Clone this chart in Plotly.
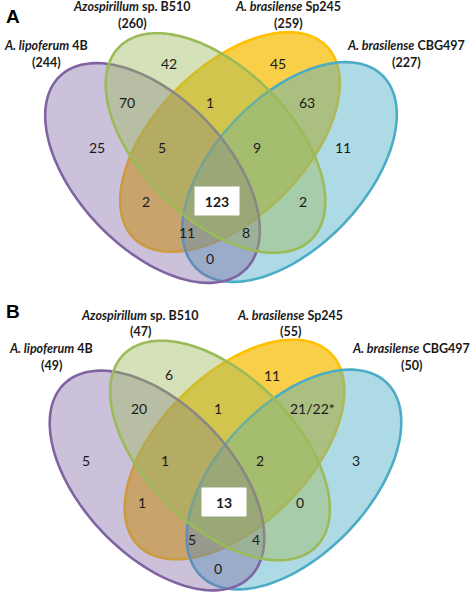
import numpy as np
import plotly.graph_objects as go

W, H = 472, 594

# ---- data ----
species = ["A. lipoferum", "Azospirillum", "A. brasilense", "A. brasilense"]
strains = ["4B", "sp. B510", "Sp245", "CBG497"]
totals_A = [244, 260, 259, 227]
totals_B = [49, 47, 55, 50]

regions = ["L", "B", "S", "C", "LB", "BS", "SC", "LBS", "BSC", "LS",
           "LBSC", "BC", "LSC", "LBC", "LC"]
counts_A = ["25", "42", "45", "11", "70", "1", "63", "5", "9", "2",
            "123", "2", "11", "8", "0"]
counts_B = ["5", "6", "11", "3", "20", "1", "21/22*", "1", "2", "1",
            "13", "0", "5", "4", "0"]
panel_letters = ["A", "B"]

# ---- layout (positions / styles) ----
pos_A = {"L": (97, 147), "B": (169, 63), "S": (278, 63), "C": (343, 147),
         "LB": (127, 102), "BS": (210, 102), "SC": (307, 102),
         "LBS": (162, 147), "BSC": (257, 147), "LS": (146, 201),
         "LBSC": (217, 201), "BC": (303, 201), "LSC": (187, 232),
         "LBC": (246, 232), "LC": (210, 258)}
pos_B = {"L": (86, 460), "B": (169, 374), "S": (272, 375), "C": (356, 460),
         "LB": (139, 408), "BS": (218, 408), "SC": (312, 408),
         "LBS": (165, 460), "BSC": (260, 460), "LS": (142, 502),
         "LBSC": (224, 502), "BC": (300, 502), "LSC": (192, 539),
         "LBC": (256, 539), "LC": (218, 568)}
setlab_A = [(46, 45, 62), (132, 6, 23), (288, 6, 23), (406, 45, 62)]
setlab_B = [(51, 348, 365), (140, 315, 331), (290, 315, 331), (411, 348, 365)]
letter_pos = [(13, 16), (13, 311)]
offsets = [(0, 0), (4.5, 307.5)]

# ellipse geometry: (cx, cy, a, b, angle_deg) for L, B, S, C
ell = {"L": (152.5, 173, 134, 75, 46.3),
       "B": (215.5, 143, 136, 75, 45.0),
       "S": (230.0, 142, 136, 75, 135.0),
       "C": (289.5, 172, 134, 75, 133.7)}
fills = {"S": "rgba(249,206,72,1)", "C": "rgba(75,172,198,0.45)",
         "L": "rgba(128,100,162,0.40)", "B": "rgba(155,187,89,0.42)"}
lines = {"S": "#FFC000", "C": "#4BACC6", "L": "#8064A2", "B": "#9BBB59"}
draw_order = ["S", "C", "L", "B"]


def ellipse_path(cx, cy, a, b, deg, n=160):
    t = np.linspace(0, 2 * np.pi, n, endpoint=False)
    th = np.radians(deg)
    x = cx + a * np.cos(t) * np.cos(th) - b * np.sin(t) * np.sin(th)
    y = cy + a * np.cos(t) * np.sin(th) + b * np.sin(t) * np.cos(th)
    return "M " + " L ".join(f"{xi:.2f},{yi:.2f}" for xi, yi in zip(x, y)) + " Z"


fig = go.Figure()
shapes, annots = [], []
NUMFONT = dict(family="Lato, 'Noto Sans', sans-serif", size=14, color="#1a1a1a")
LABFONT = dict(family="Lato, 'Noto Sans', sans-serif", size=12.5, color="#1a1a1a")

panels = [(counts_A, totals_A, pos_A, setlab_A), (counts_B, totals_B, pos_B, setlab_B)]
for p, (counts, totals, pos, setlab) in enumerate(panels):
    dx, dy = offsets[p]
    for k in draw_order:
        cx, cy, a, b, deg = ell[k]
        shapes.append(dict(type="path", xref="x", yref="y",
                           path=ellipse_path(cx + dx, cy + dy, a, b, deg),
                           fillcolor=fills[k], line=dict(color=lines[k], width=2.6),
                           layer="above"))
    for r, c in zip(regions, counts):
        x, y = pos[r]
        if r == "LBSC":
            annots.append(dict(x=x, y=y, xref="x", yref="y", text=f"<b>{c}</b>",
                               showarrow=False, font=NUMFONT, bgcolor="white",
                               width=42, height=26, align="center", valign="middle"))
        else:
            annots.append(dict(x=x, y=y, xref="x", yref="y", text=c,
                               showarrow=False, font=NUMFONT))
    for i in range(4):
        x, y1, y2 = setlab[i]
        t1 = f"<b><i>{species[i]}</i> {strains[i]}</b>"
        annots.append(dict(x=x, y=y1, xref="x", yref="y", text=t1,
                           showarrow=False, font=LABFONT))
        annots.append(dict(x=x, y=y2, xref="x", yref="y", text=f"<b>({totals[i]})</b>",
                           showarrow=False, font=LABFONT))
    lx, ly = letter_pos[p]
    annots.append(dict(x=lx, y=ly, xref="x", yref="y", text=f"<b>{panel_letters[p]}</b>",
                       showarrow=False,
                       font=dict(family="'Liberation Sans', Arial, sans-serif", size=19,
                                 color="black")))

fig.update_layout(width=W, height=H, margin=dict(l=0, r=0, t=0, b=0),
                  paper_bgcolor="white", plot_bgcolor="white",
                  shapes=shapes, annotations=annots, showlegend=False,
                  xaxis=dict(range=[0, W], visible=False, fixedrange=True),
                  yaxis=dict(range=[H, 0], visible=False, fixedrange=True))
fig.write_html("out.html", config={"displayModeBar": False},
               post_script="document.body.style.margin='0';document.body.style.overflow='hidden';")
